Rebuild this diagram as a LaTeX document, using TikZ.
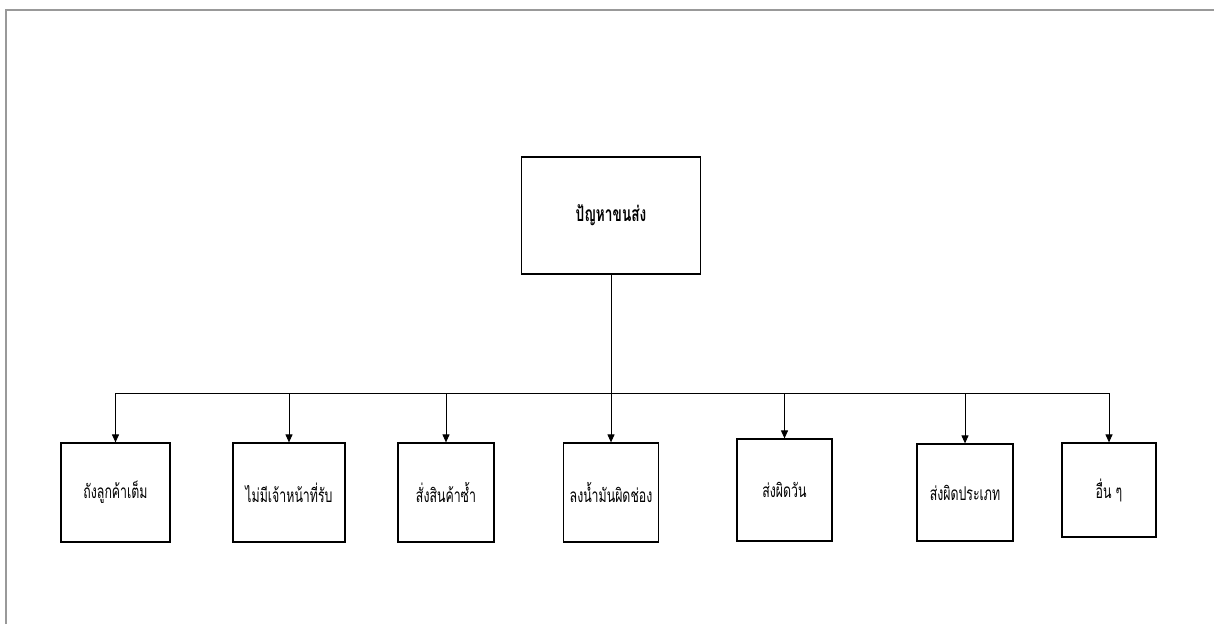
\documentclass[tikz,border=0pt]{standalone}
\usepackage{fontspec}
\usetikzlibrary{arrows.meta}
\newfontfamily\thailabel[Script=Thai,FakeStretch=0.65]{Loma}
\begin{document}
\begin{tikzpicture}[x=1pt,y=-1pt,
  box/.style={draw=black, line width=1.2pt, inner sep=0pt, align=center,
    font=\thailabel\fontsize{19}{22}\selectfont},
  headbox/.style={box, font=\thailabel\bfseries\fontsize{21}{24}\selectfont},
  link/.style={draw=black, line width=1pt},
  arr/.style={link, -{Triangle[length=8pt,width=7pt]}}]
\useasboundingbox (0,0) rectangle (1214,624);
% outer frame: top and left edges
\draw[gray!80, line width=1.5pt] (6,624) -- (6,10) -- (1214,10);

% root
\node[headbox, minimum width=179pt, minimum height=117pt] (root) at (611,215.5) {ปัญหาขนส่ง};

% causes
\node[box, minimum width=109pt, minimum height=99pt]  (c1) at (115.5,492.5) {ถังลูกค้าเต็ม};
\node[box, minimum width=112pt, minimum height=99pt]  (c2) at (289,492.5)   {ไม่มีเจ้าหน้าที่รับ};
\node[box, minimum width=96pt,  minimum height=99pt]  (c3) at (446,492.5)   {สั่งสินค้าซ้ำ};
\node[box, minimum width=95pt,  minimum height=99pt]  (c4) at (611,492.5)   {ลงน้ำมันผิดช่อง};
\node[box, minimum width=95pt,  minimum height=102pt] (c5) at (784.5,490)   {ส่งผิดวัน};
\node[box, minimum width=96pt,  minimum height=97pt]  (c6) at (965,492.5)   {ส่งผิดประเภท};
\node[box, minimum width=94pt,  minimum height=94pt]  (c7) at (1109,490)    {อื่น ๆ};

% distribution bus
\coordinate (bus) at (611,393);
\draw[link] (root.south) -- (bus);
\draw[link] (c1.north |- bus) -- (c7.north |- bus);
\foreach \c in {c1,c2,c3,c4,c5,c6,c7}
  \draw[arr] (\c.north |- bus) -- (\c.north);
\end{tikzpicture}
\end{document}
